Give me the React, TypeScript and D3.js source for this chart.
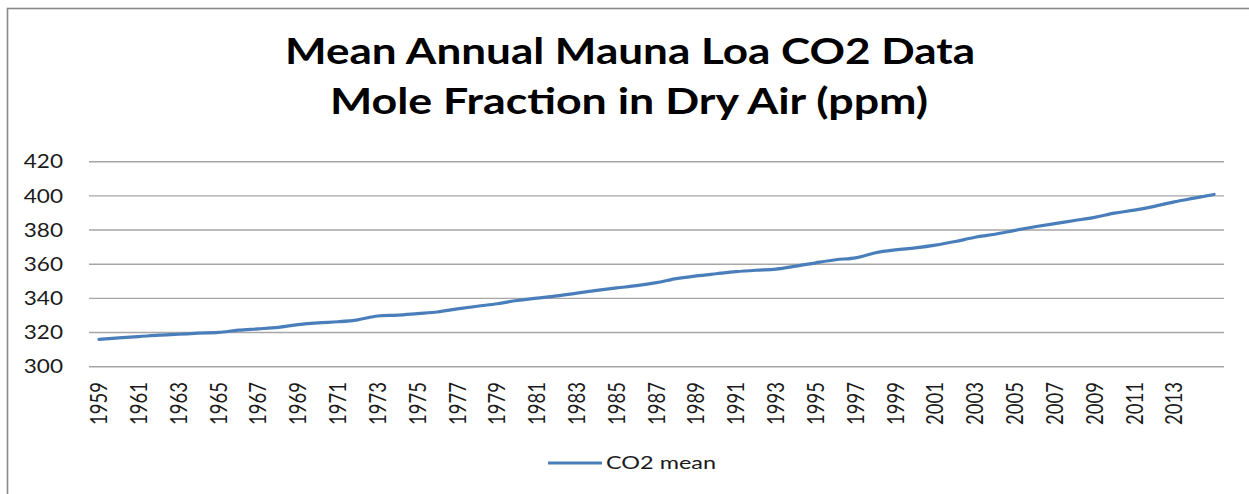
import React, { useEffect, useRef } from 'react'
import * as d3 from 'd3'

// annual mean CO2 at Mauna Loa, ppm
const years = d3.range(1959, 2016)
const co2 = [
  315.97, 316.91, 317.64, 318.45, 318.99, 319.62, 320.04, 321.38, 322.16, 323.04,
  324.62, 325.68, 326.32, 327.45, 329.68, 330.18, 331.11, 332.04, 333.83, 335.4,
  336.84, 338.75, 340.11, 341.45, 343.05, 344.65, 346.12, 347.42, 349.19, 351.57,
  353.12, 354.39, 355.61, 356.45, 357.1, 358.83, 360.82, 362.61, 363.73, 366.7,
  368.38, 369.55, 371.14, 373.28, 375.8, 377.52, 379.8, 381.9, 383.79, 385.6,
  387.43, 389.9, 391.65, 393.85, 396.52, 398.65, 400.83,
]
const yTicks = [300, 320, 340, 360, 380, 400, 420]
const xTickYears = years.filter((y) => (y - 1959) % 2 === 0 && y <= 2013)
const titleLines = ['Mean Annual Mauna Loa CO2 Data', 'Mole Fraction in Dry Air (ppm)']
const seriesName = 'CO2 mean'

const W = 1249, H = 494
const FONT = 'Lato, "Open Sans", sans-serif'
const STRETCH = 1.22

function App() {
  const ref = useRef<SVGSVGElement>(null)

  useEffect(() => {
    const svg = d3.select(ref.current)
    svg.selectAll('*').remove()

    const x = d3.scaleBand<number>().domain(years).range([89, 1224]).padding(0)
    const y = d3.scaleLinear().domain([300, 420]).range([366.7, 161.7])
    const cx = (d: number) => (x(d) as number) + x.bandwidth() / 2

    // outer frame
    svg.append('rect')
      .attr('x', 7.5).attr('y', 8.5)
      .attr('width', W + 20).attr('height', H + 20)
      .attr('fill', 'white')
      .attr('stroke', '#8a8a8a').attr('stroke-width', 1.6)

    // title
    svg.selectAll('.title')
      .data(titleLines)
      .join('text')
      .attr('class', 'title')
      .attr('x', (d, i) => (i === 0 ? 630 : 629))
      .attr('y', (d, i) => (i === 0 ? 64 : 113.5))
      .attr('text-anchor', 'middle')
      .attr('font-family', FONT)
      .attr('font-weight', 700)
      .attr('font-size', 36)
      .attr('fill', '#000')
      .attr('textLength', (d, i) => (i === 0 ? 690 : 598))
      .attr('lengthAdjust', 'spacingAndGlyphs')
      .text((d) => d)

    // gridlines
    svg.append('g')
      .selectAll('line')
      .data(yTicks)
      .join('line')
      .attr('x1', 89).attr('x2', 1224)
      .attr('y1', (d) => y(d)).attr('y2', (d) => y(d))
      .attr('stroke', '#a6a6a6').attr('stroke-width', 1.4)

    // y labels
    svg.append('g')
      .selectAll('text')
      .data(yTicks)
      .join('text')
      .attr('transform', (d) => `translate(63,${y(d)}) scale(${STRETCH},1)`)
      .attr('text-anchor', 'end')
      .attr('dy', '0.36em')
      .attr('font-family', FONT)
      .attr('font-size', 18.5)
      .attr('fill', '#1a1a1a')
      .text((d) => d)

    // x labels
    svg.append('g')
      .selectAll('text')
      .data(xTickYears)
      .join('text')
      .attr('transform', (d) => `translate(${cx(d)},382) scale(${STRETCH},1) rotate(-90)`)
      .attr('text-anchor', 'end')
      .attr('dy', '0.36em')
      .attr('font-family', FONT)
      .attr('font-size', 18.5)
      .attr('fill', '#1a1a1a')
      .text((d) => d)

    // line
    const line = d3.line<number>()
      .x((d, i) => cx(years[i]))
      .y((d) => y(d))
      .curve(d3.curveMonotoneX)

    svg.append('path')
      .datum(co2)
      .attr('d', line)
      .attr('fill', 'none')
      .attr('stroke', '#4a7ebb')
      .attr('stroke-width', 3.2)
      .attr('stroke-linejoin', 'round')
      .attr('stroke-linecap', 'round')

    // legend
    const lg = svg.append('g')
    lg.append('line')
      .attr('x1', 548).attr('x2', 602)
      .attr('y1', 463).attr('y2', 463)
      .attr('stroke', '#4a7ebb').attr('stroke-width', 3.2)
    lg.append('text')
      .attr('x', 606).attr('y', 463)
      .attr('dy', '0.36em')
      .attr('font-family', FONT)
      .attr('font-size', 17)
      .attr('fill', '#1a1a1a')
      .attr('textLength', 110)
      .attr('lengthAdjust', 'spacingAndGlyphs')
      .text(seriesName)
  }, [])

  return (
    <div style={{ position: 'absolute', left: 0, top: 0 }}>
      <svg ref={ref} width={W} height={H} style={{ display: 'block' }} />
    </div>
  )
}

export default App
